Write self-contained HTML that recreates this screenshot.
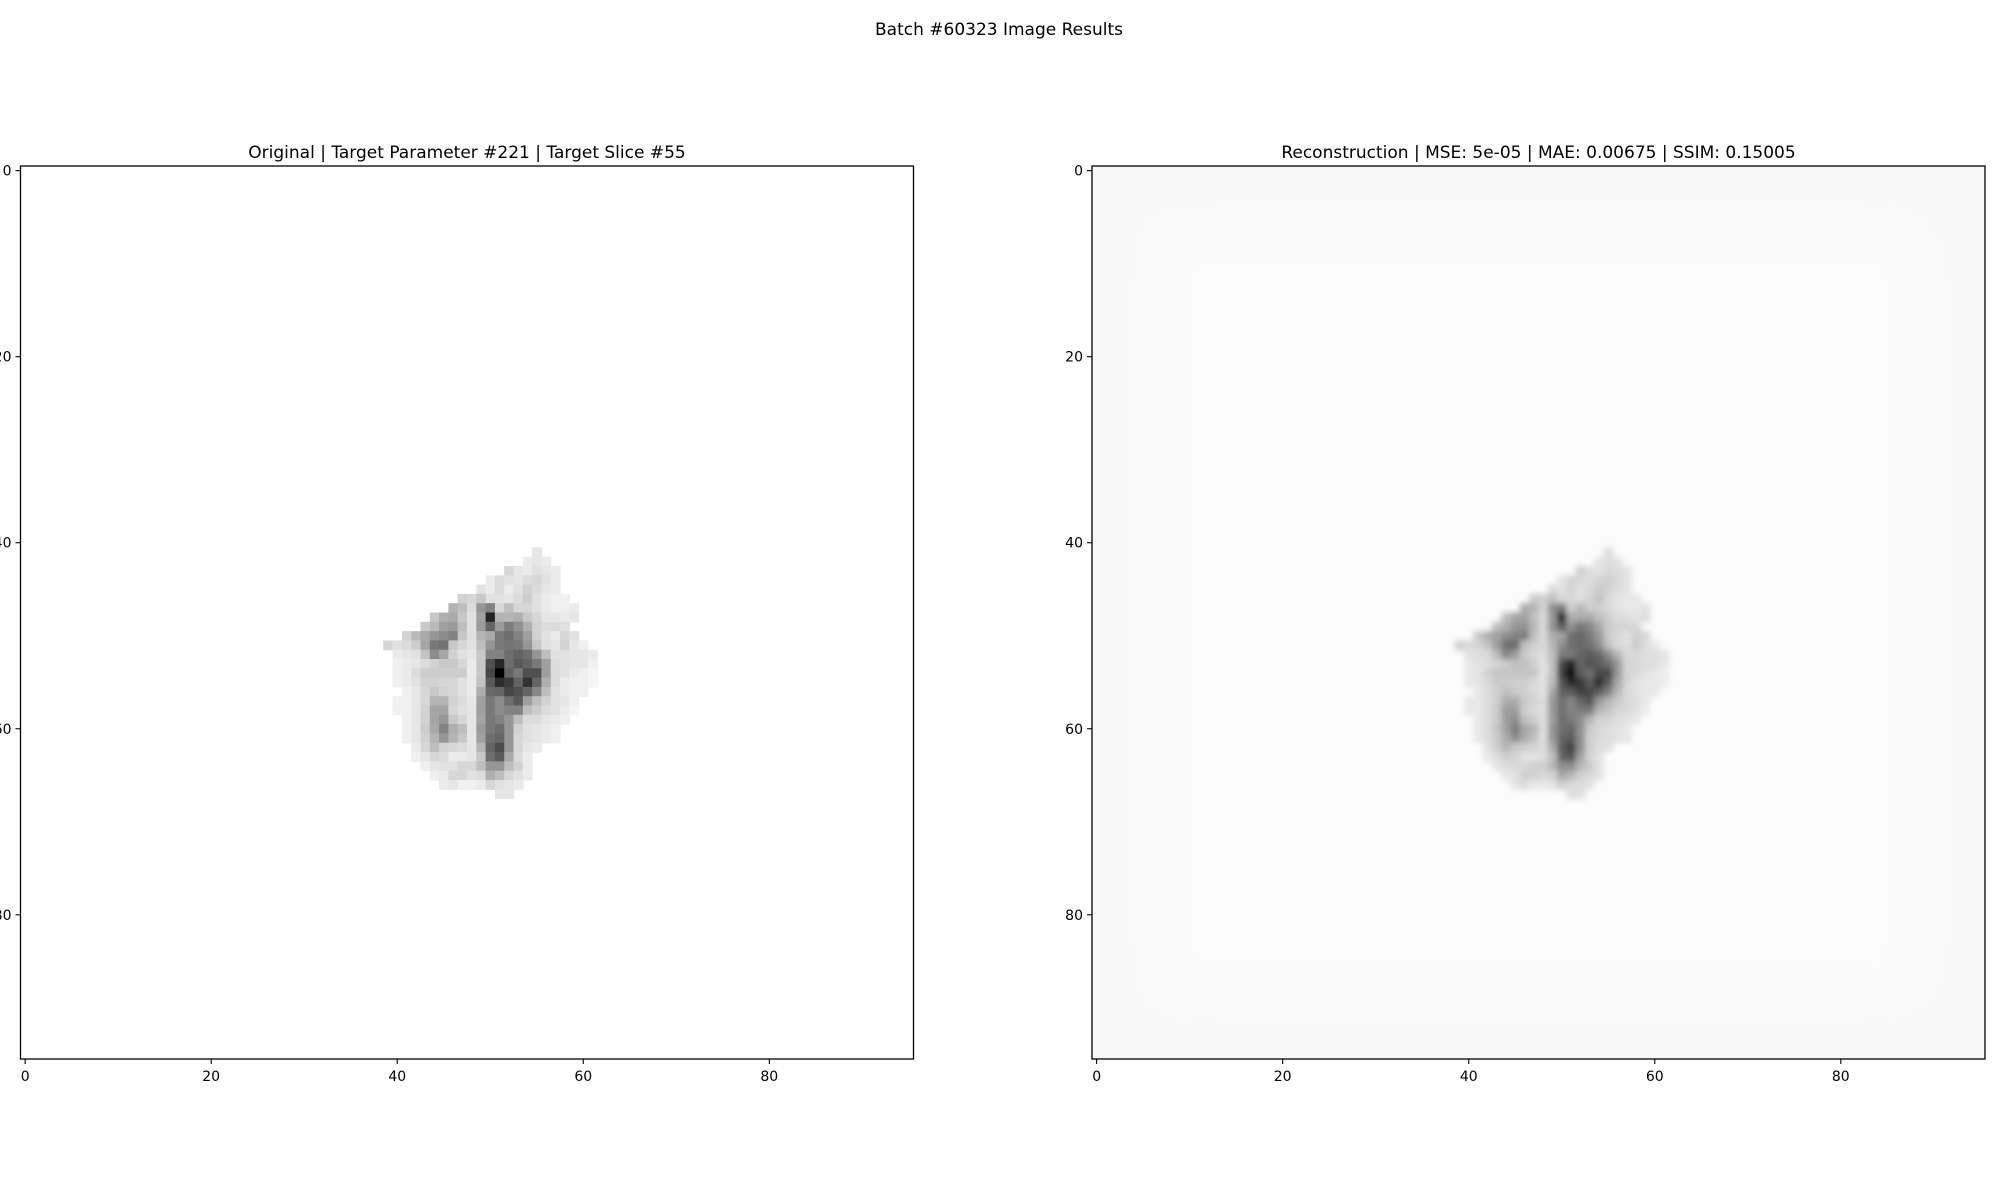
<!DOCTYPE html>
<html><head><meta charset="utf-8"><style>
html,body{margin:0;padding:0;background:#fff;overflow:hidden;width:2000px;height:1200px}
text{font-family:"DejaVu Sans","Liberation Sans",sans-serif;fill:#000}
</style></head><body>
<svg id="fig" width="2000" height="1200" viewBox="0 0 2000 1200" xmlns="http://www.w3.org/2000/svg">
<defs><filter id="soft" x="-20%" y="-20%" width="140%" height="140%"><feGaussianBlur stdDeviation="3"/></filter>
<filter id="bgsoft" x="-20%" y="-20%" width="140%" height="140%"><feGaussianBlur stdDeviation="25"/></filter>
<clipPath id="clipR"><rect x="1092" y="166" width="893" height="893"/></clipPath></defs>
<text x="999" y="35" font-size="17" text-anchor="middle">Batch #60323 Image Results</text>
<g id="panelL"></g>
<g id="panelR"></g>
</svg>
<script>
// image grid: 96x96 pixels, extent -0.5..95.5
const gridSize = 96;
const xTicks = [0, 20, 40, 60, 80];
const yTicks = [0, 20, 40, 60, 80];
// each row: [rowIndex, startCol, gray values (0=black,255=white)...]
const blobRows = [
[41,55,230],
[42,54,235,230,235],
[43,52,215,230,235,225,230,235],
[44,50,235,220,225,230,220,215,225,235],
[45,49,225,235,220,235,225,210,220,230,235],
[46,47,210,215,200,225,225,230,220,205,225,235,240,240],
[47,46,180,190,220,150,130,215,190,215,215,225,235,240,240,235],
[48,44,200,175,170,200,225,160,35,180,180,175,200,215,230,230,235,230],
[49,43,200,185,160,155,190,225,155,100,155,125,145,175,210,220,220,225],
[50,41,210,185,170,150,140,130,200,225,180,170,120,110,130,160,210,225,235,215,225],
[51,39,215,225,220,205,165,120,115,200,215,225,190,150,120,115,120,150,200,225,230,210,230,240],
[52,40,235,230,225,195,140,165,210,225,230,200,130,130,110,100,110,150,190,225,225,230,230,235],
[53,40,240,235,230,220,210,200,200,215,235,200,80,40,110,90,100,120,160,220,225,230,230,240],
[54,40,240,235,220,205,205,205,205,205,235,200,70,0,100,120,80,80,160,220,225,235,240,245],
[55,40,240,235,225,210,210,215,215,225,235,195,90,45,60,100,50,100,175,220,235,240,240,245],
[56,41,240,230,215,200,210,215,225,235,175,105,100,70,80,100,135,190,225,235,240,240],
[57,40,240,240,230,215,180,180,210,220,230,160,120,140,110,90,160,190,210,225,230,240],
[58,40,240,240,230,210,165,165,215,225,230,160,120,140,130,130,190,205,220,225,235,245],
[59,41,240,230,210,165,150,200,215,230,165,120,130,150,190,220,220,230,235,240],
[60,41,240,230,205,170,130,175,190,230,155,120,110,150,210,225,230,235,240],
[61,41,240,230,210,180,150,180,200,230,160,110,100,150,215,225,230,235,240],
[62,42,235,215,190,210,215,220,230,180,100,75,150,215,230,235],
[63,42,240,230,215,220,235,235,230,200,110,90,170,220,235],
[64,43,240,230,225,225,215,215,190,150,150,190,210,235],
[65,44,240,235,215,215,225,220,175,190,215,225,235],
[66,45,235,230,240,240,235,215,225,230,235],
[67,51,230,230]
];
const NS = "http://www.w3.org/2000/svg";
const axSize = 893, axTop = 166;
function mk(tag, attrs, parent){const e=document.createElementNS(NS,tag);for(const k in attrs)e.setAttribute(k,attrs[k]);parent.appendChild(e);return e;}
function drawPanel(g, left, title, recon){
  const px = axSize/gridSize;
  const xs = v => left + (v+0.5)*px;
  const ys = v => axTop + (v+0.5)*px;
  const bg = mk('rect',{x:left,y:axTop,width:axSize,height:axSize,fill:recon?'#f8f8f8':'#fff'},g);
  
  
  if(recon){
    const inner = mk('rect',{x:left+60,y:axTop+60,width:axSize-120,height:axSize-120,fill:'#fcfcfc',filter:'url(#bgsoft)'},g);
    
    
  }
  const cells = mk('g',recon?{filter:'url(#soft)','clip-path':'url(#clipR)'}:{},g);
  
  
  blobRows.forEach(row=>{
    const r=row[0], c0=row[1];
    for(let i=2;i<row.length;i++){
      let v=row[i];
      if(recon) v=Math.max(0,Math.round(v*1.0-8));
      const c=c0+i-2;
      const cell=mk('rect',{x:xs(c-0.5),y:ys(r-0.5),width:px+0.6,height:px+0.6,fill:`rgb(${v},${v},${v})`},cells);
      
      
    }
  });
  const frame=mk('rect',{x:left,y:axTop,width:axSize,height:axSize,fill:'none',stroke:'#000','stroke-width':1.3},g);
  
  
  xTicks.forEach(t=>{
    const x=xs(t);
    const tk=mk('line',{x1:x,y1:axTop+axSize,x2:x,y2:axTop+axSize+5,stroke:'#000','stroke-width':1.1},g);
    
    
    const lb=mk('text',{x:x,y:axTop+axSize+22,'font-size':14,'text-anchor':'middle'},g);
    lb.textContent=t;
    
    
  });
  yTicks.forEach(t=>{
    const y=ys(t);
    const tk=mk('line',{x1:left-5,y1:y,x2:left,y2:y,stroke:'#000','stroke-width':1.1},g);
    
    
    const lb=mk('text',{x:left-9,y:y+5,'font-size':14,'text-anchor':'end'},g);
    lb.textContent=t;
    
    
  });
  const tt=mk('text',{x:left+axSize/2,y:158,'font-size':17,'text-anchor':'middle'},g);
  tt.textContent=title;
  
  
}
drawPanel(document.getElementById('panelL'),20.5,'Original | Target Parameter #221 | Target Slice #55',false);
drawPanel(document.getElementById('panelR'),1092,'Reconstruction | MSE: 5e-05 | MAE: 0.00675 | SSIM: 0.15005',true);
</script>
</body></html>
